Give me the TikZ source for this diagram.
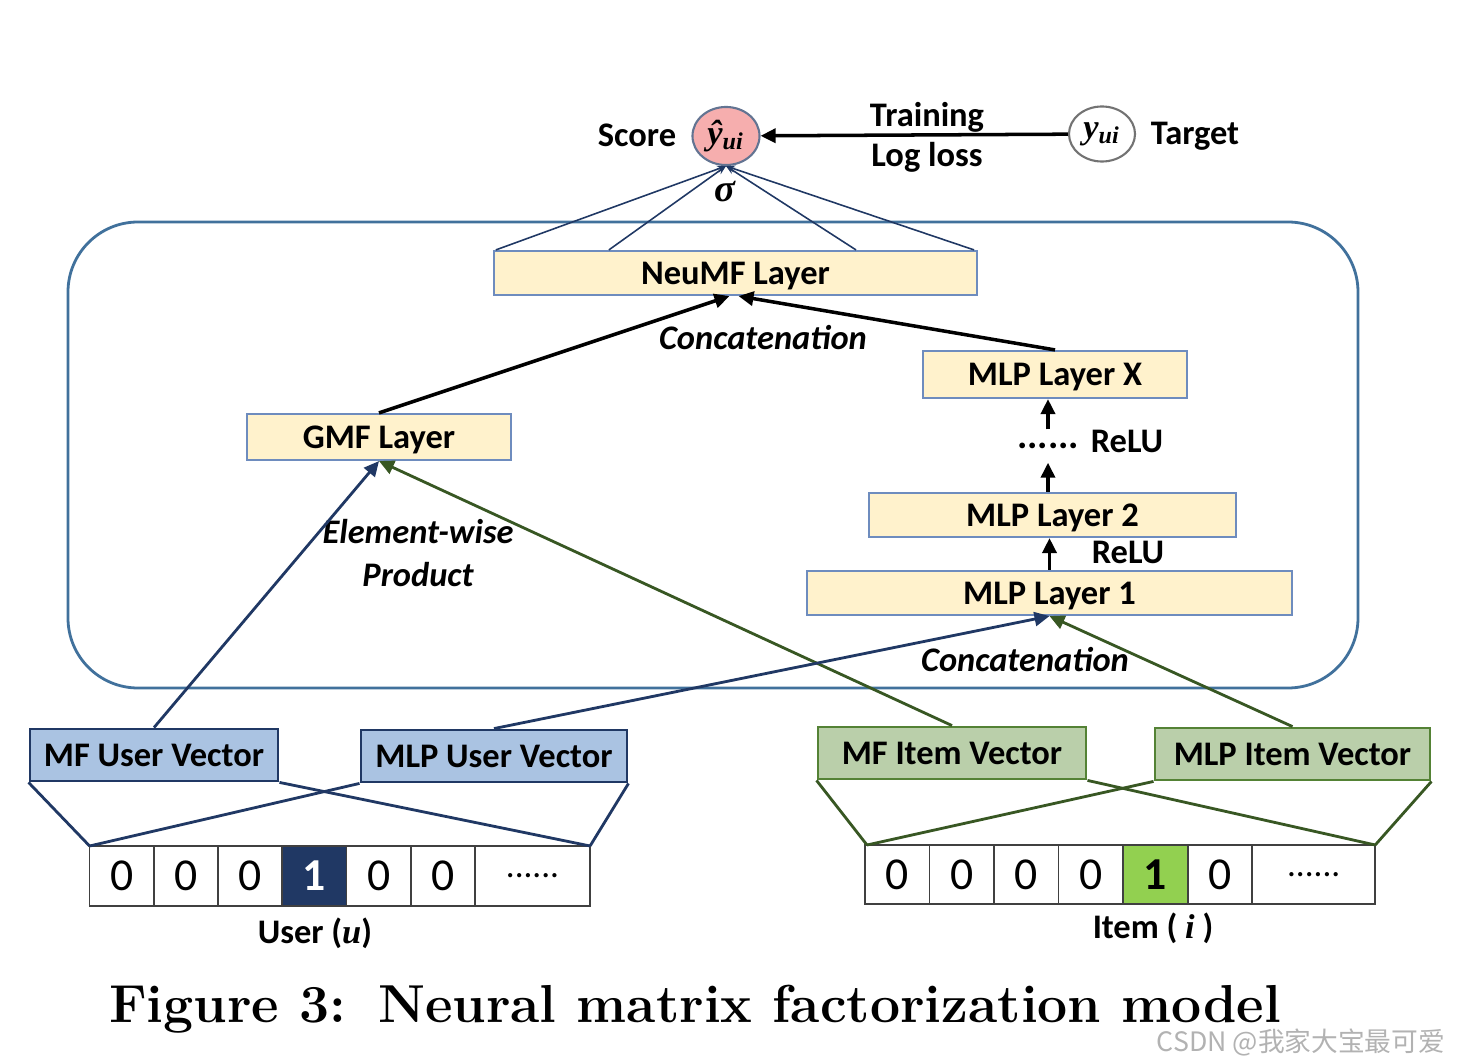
\documentclass[tikz,border=0pt]{standalone}
\usepackage{fontspec}
\newfontfamily\calibri{Carlito}
\newfontfamily\tnr{Liberation Serif}
\newfontfamily\cjk{Noto Sans CJK SC}
\definecolor{mynavy}{RGB}{32,56,100}
\definecolor{mydkgreen}{RGB}{56,87,35}
\definecolor{mylayer}{RGB}{255,242,204}
\definecolor{mylayerline}{RGB}{110,140,190}
\definecolor{myuser}{RGB}{170,195,226}
\definecolor{myitem}{RGB}{186,207,170}
\definecolor{myitemline}{RGB}{84,130,53}
\definecolor{mypanel}{RGB}{65,113,156}
\definecolor{myscore}{RGB}{246,174,174}
\definecolor{mycell}{RGB}{146,208,80}
\usetikzlibrary{arrows.meta,positioning,chains,shapes.geometric,calc}

\begin{document}
\begin{tikzpicture}[x=0.01cm,y=-0.01cm,
    every node/.style={inner sep=0pt,font=\calibri\bfseries\fontsize{9.8}{12}\selectfont},
    layer/.style={draw=mylayerline,fill=mylayer,line width=0.6pt,text depth=0pt},
    uservec/.style={draw=mynavy,fill=myuser,line width=0.8pt,minimum height=0.52cm},
    itemvec/.style={draw=myitemline,fill=myitem,line width=0.8pt,minimum height=0.52cm},
    cell/.style={draw=black!75,line width=0.5pt,outer sep=0pt,minimum height=0.6cm,
        font=\calibri\fontsize{13}{13}\selectfont},
    bigarrow/.style={-{Triangle[length=0.15cm,width=0.14cm]},line width=1pt},
    userarrow/.style={bigarrow,draw=mynavy,line width=0.8pt},
    itemarrow/.style={bigarrow,draw=mydkgreen,line width=0.8pt},
    sigline/.style={-{Stealth[length=0.09cm,width=0.07cm]},draw=mynavy,line width=0.45pt},
    emb/.style={line width=0.8pt},
    label/.style={font=\calibri\bfseries\itshape\fontsize{9.8}{12.2}\selectfont}
    ]
    \useasboundingbox (0,0) rectangle (1460,1064);

    % the big panel
    \draw[mypanel,line width=0.8pt,rounded corners=0.7cm] (68,222) rectangle (1358,688);

    % the output
    \node[ellipse,draw=mynavy!70,fill=myscore,line width=0.6pt,minimum width=0.67cm,minimum height=0.58cm]
        (score) at (726,136) {\tnr\bfseries\itshape ŷ\textsubscript{ui}};
    \node[ellipse,draw=black!55,line width=0.6pt,minimum width=0.66cm,minimum height=0.55cm]
        (target) at (1102,134) {\tnr\bfseries\itshape y\textsubscript{ui}};
    \node (scoretxt) at (637,135) {Score};
    \node (targettxt) at (1195,136) {Target};
    \node (train) at (927,117) {Training};
    \node (logloss) at (927,157) {Log loss};
    \node (sigma) at (725,192) {\tnr\bfseries\itshape\fontsize{11}{11}\selectfont σ};
    \draw[bigarrow] (target) -- (score);

    % the layers
    \node[layer,minimum width=4.83cm,minimum height=0.44cm] (neumf) at (735.5,273) {NeuMF Layer};
    \node[layer,minimum width=2.64cm,minimum height=0.46cm] (gmf) at (379,437) {GMF Layer};
    \node[layer,minimum width=2.64cm,minimum height=0.47cm] (mlpx) at (1055,374.5) {MLP Layer X};
    \node[layer,minimum width=3.67cm,minimum height=0.44cm] (mlp2) at (1052.5,515) {MLP Layer 2};
    \node[layer,minimum width=4.85cm,minimum height=0.44cm] (mlp1) at (1049.5,593) {MLP Layer 1};
    \node[minimum height=0.32cm] (dots) at (1048,446) {\fontsize{11}{11}\selectfont ......};
    \node (relu2) at (1127,441) {ReLU};
    \node (relu1) at (1128,552) {ReLU};
    \node[label] (cat1) at (763,338) {Concatenation};
    \node[label] (cat2) at (1025,660) {Concatenation};
    \node[label,align=center] (prod) at (418,553) {Element-wise\\Product};

    % sigma lines
    \foreach \dx in {0.03,1.16,3.63,4.81}
    \draw[sigline] ([xshift=\dx cm]neumf.north west) -- (score.south);

    % the layer arrows
    \draw[bigarrow] (gmf.north) -- ([xshift=-0.06cm]neumf.south);
    \draw[bigarrow] (mlpx.north) -- ([xshift=0.03cm]neumf.south);
    \draw[bigarrow] (mlp1.north) -- (mlp1.north |- mlp2.south);
    \draw[bigarrow] (mlp2.north -| dots) -- (dots.south);
    \draw[bigarrow] (dots.north) -- (dots.north |- mlpx.south);

    % the vectors
    \node[uservec,minimum width=2.48cm] (mfuser) at (154,755) {MF User Vector};
    \node[uservec,minimum width=2.66cm] (mlpuser) at (494,756) {MLP User Vector};
    \node[itemvec,minimum width=2.68cm] (mfitem) at (952,753) {MF Item Vector};
    \node[itemvec,minimum width=2.75cm] (mlpitem) at (1292.5,754) {MLP Item Vector};

    \draw[userarrow] (mfuser.north) -- (gmf.south);
    \draw[itemarrow] (mfitem.north) -- (gmf.south);
    \draw[userarrow] (mlpuser.north) -- (mlp1.south);
    \draw[itemarrow] (mlpitem.north) -- (mlp1.south);

    % the one-hot user
    \begin{scope}[shift={(121.7,876)},start chain=going right,node distance=0pt]
    \foreach \v/\f/\t in {0/white/black,0/white/black,0/white/black,1/mynavy/white,0/white/black,0/white/black}
    \node[cell,on chain,minimum width=0.642cm,fill=\f,text=\t] (u\v\f) {\ifnum\v=1 \bfseries\fi\v};
    \node[cell,on chain,minimum width=1.15cm] (ulast) {\fontsize{10}{10}\selectfont ......};
    \end{scope}
    \coordinate (ufirst) at (89.6,846);
    \node (user) at (315,933) {User ({\tnr\bfseries\itshape u})};

    % the one-hot item
    \begin{scope}[shift={(897.2,874.5)},start chain=going right,node distance=0pt]
    \foreach \v/\f/\t in {0/white/black,0/white/black,0/white/black,0/white/black,1/mycell/black,0/white/black}
    \node[cell,on chain,minimum width=0.645cm,minimum height=0.59cm,fill=\f,text=\t] (i\v\f) {\ifnum\v=1 \bfseries\fi\v};
    \node[cell,on chain,minimum width=1.23cm,minimum height=0.59cm] (ilast) {\fontsize{10}{10}\selectfont ......};
    \end{scope}
    \coordinate (ifirst) at (867,845);
    \node (item) at (1153,928) {Item ( {\tnr\bfseries\itshape i} )};

    % the embedding lines
    \draw[emb,mynavy] (mfuser.south west) -- (ufirst) (mfuser.south east) -- (ulast.north east);
    \draw[emb,mynavy] (mlpuser.south west) -- (ufirst) (mlpuser.south east) -- (ulast.north east);
    \draw[emb,mydkgreen] (mfitem.south west) -- (ifirst) (mfitem.south east) -- (ilast.north east);
    \draw[emb,mydkgreen] (mlpitem.south west) -- (ifirst) (mlpitem.south east) -- (ilast.north east);

    % the caption
    \node[font=\bfseries\fontsize{15.2}{16}\selectfont] (caption) at (695,1009)
        {Figure 3:\hskip0.6em Neural matrix factorization model};
    \node[font=\cjk\fontsize{7.6}{9}\selectfont,text=black!30] (mark) at (1301,1042) {CSDN @我家大宝最可爱};
\end{tikzpicture}
\end{document}
